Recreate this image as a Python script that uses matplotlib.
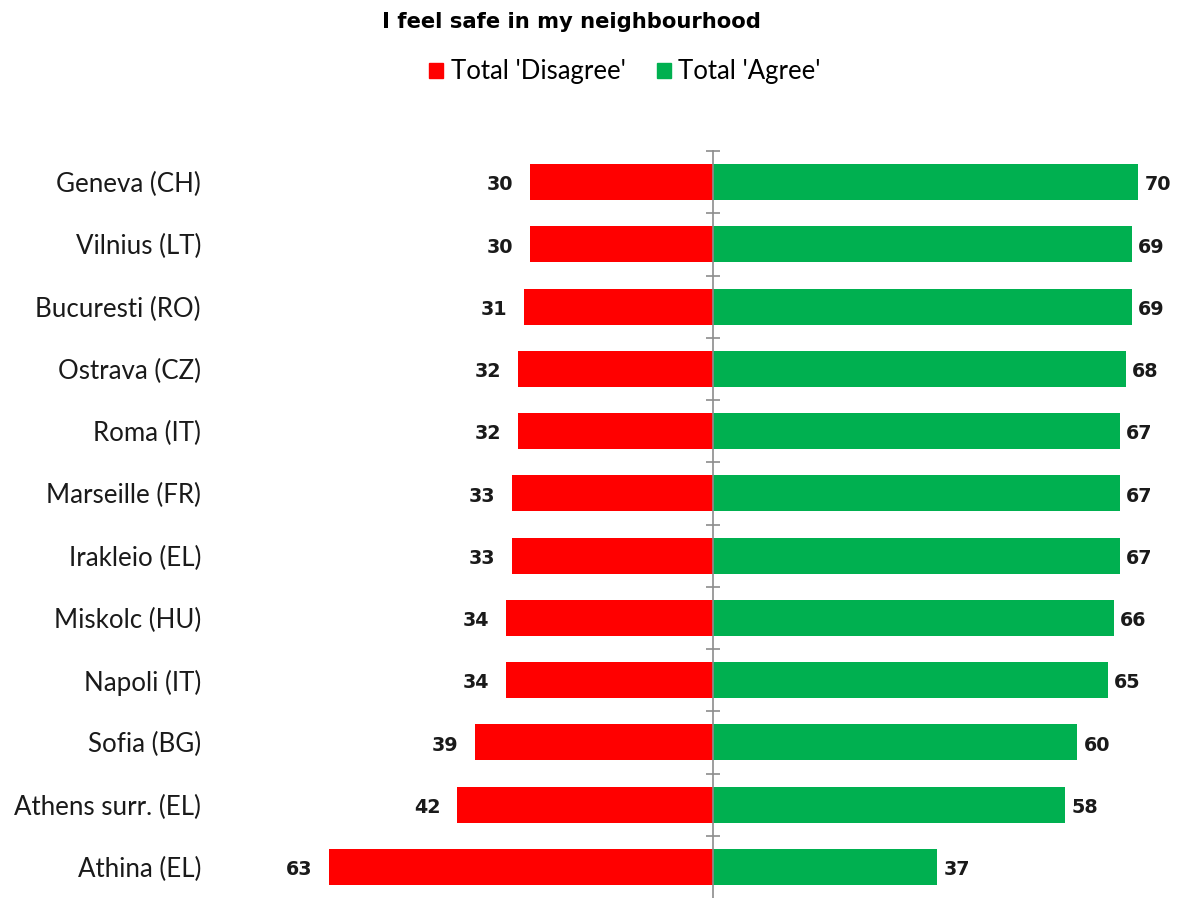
import matplotlib.pyplot as plt
import numpy as np
from matplotlib.patches import Patch

cities = ["Geneva (CH)", "Vilnius (LT)", "Bucuresti (RO)", "Ostrava (CZ)", "Roma (IT)",
          "Marseille (FR)", "Irakleio (EL)", "Miskolc (HU)", "Napoli (IT)", "Sofia (BG)",
          "Athens surr. (EL)", "Athina (EL)"]
disagree = [30, 30, 31, 32, 32, 33, 33, 34, 34, 39, 42, 63]
agree = [70, 69, 69, 68, 67, 67, 67, 66, 65, 60, 58, 37]

red = "#FF0000"
green = "#00B050"
grey = "#8C8C8C"
label_font = "Lato"
num_font = "DejaVu Sans"

fig = plt.figure(figsize=(11.81, 8.98), dpi=100)
W, H = 1181, 898
# center line at x=712px, ~6.08 px per unit
scale = 6.08
left_px = 712.5 - 75 * scale
right_px = 712.5 + 75 * scale
ax = fig.add_axes([left_px / W, 0, (right_px - left_px) / W, 1 - 151 / H])

y = np.arange(len(cities))
ax.barh(y, [-d for d in disagree], height=0.58, color=red)
ax.barh(y, agree, height=0.58, color=green)

for yi, d, a in zip(y, disagree, agree):
    ax.annotate(str(d), (-d, yi), xytext=(-12, -2), textcoords="offset points",
                ha="right", va="center", fontsize=13.8, fontweight="bold",
                family=num_font, color="#1a1a1a")
    ax.annotate(str(a), (a, yi), xytext=(4.5, -2), textcoords="offset points",
                ha="left", va="center", fontsize=13.8, fontweight="bold",
                family=num_font, color="#1a1a1a")

ax.set_xlim(-75, 75)
ax.set_ylim(len(cities) - 0.5, -0.5)
ax.set_yticks(y)
ax.set_yticklabels(cities, fontsize=18.6, family=label_font, color="#1a1a1a")
ax.tick_params(axis="y", length=0, pad=40)
ax.set_xticks([])
for s in ax.spines.values():
    s.set_visible(False)

# center axis with category boundary ticks
ax2 = ax.twinx()
ax2.set_ylim(ax.get_ylim())
for s in ["right", "top", "bottom"]:
    ax2.spines[s].set_visible(False)
ax2.spines["left"].set_position(("data", 0))
ax2.spines["left"].set_color(grey)
ax2.spines["left"].set_linewidth(1.2)
ax2.yaxis.set_ticks_position("left")
ax2.set_yticks(np.arange(len(cities)) - 0.5)
ax2.tick_params(axis="y", direction="inout", length=10, width=1.2, color=grey, labelleft=False)
ax2.set_zorder(3)
ax2.patch.set_visible(False)

fig.text(571 / W, 1 - 22 / H, "I feel safe in my neighbourhood", ha="center", va="center",
         fontsize=15.2, fontweight="bold", family=num_font)

handles = [Patch(color=red, label="Total 'Disagree'"), Patch(color=green, label="Total 'Agree'")]
fig.legend(handles=handles, loc="center", bbox_to_anchor=(625 / W, 1 - 72 / H), ncol=2,
           frameon=False, handlelength=0.55, handleheight=0.55, handletextpad=0.3,
           columnspacing=1.2, prop={"family": label_font, "size": 18.5})

fig.savefig("out.png", dpi=100)
